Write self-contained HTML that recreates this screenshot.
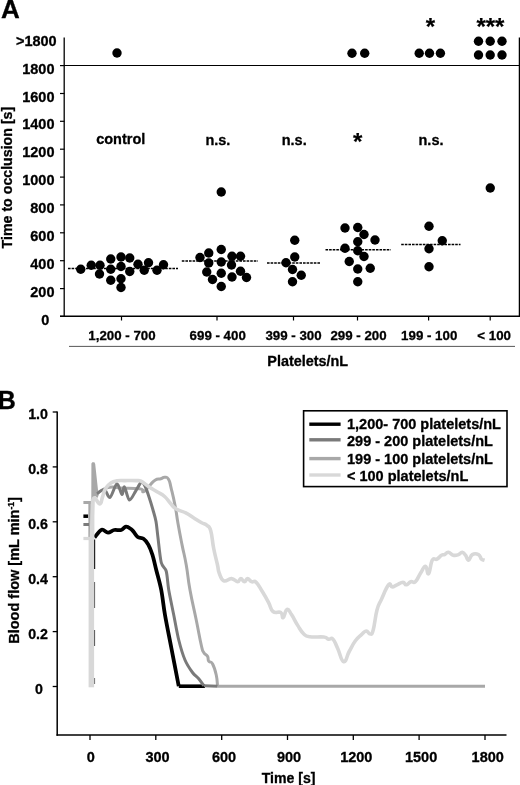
<!DOCTYPE html>
<html><head><meta charset="utf-8"><title>Figure</title>
<style>
html,body{margin:0;padding:0;background:#fff;}
body{width:520px;height:785px;overflow:hidden;}
svg{display:block;will-change:transform;}
text{font-family:"Liberation Sans",sans-serif;font-weight:bold;fill:#000;stroke:#000;stroke-width:0.3px;}
.t14{font-size:14.5px;}
.t13{font-size:13.3px;}
.big{font-size:26px;}
.ast{font-size:24px;stroke-width:0.2px;}
</style></head><body>
<svg width="520" height="785" viewBox="0 0 520 785">
<rect width="520" height="785" fill="#fff"/>

<text class="big" x="1.0" y="17.9">A</text>
<text class="big" style="font-size:25px" x="-2.3" y="409.2">B</text>
<line x1="64.2" y1="37.5" x2="64.2" y2="317" stroke="#000" stroke-width="1.3"/>
<line x1="60" y1="316.3" x2="520" y2="316.3" stroke="#000" stroke-width="1.5"/>
<line x1="519.4" y1="37.5" x2="519.4" y2="317" stroke="#000" stroke-width="1.3"/>
<line x1="60" y1="65.5" x2="519" y2="65.5" stroke="#000" stroke-width="1.2"/>
<line x1="60" y1="65.6" x2="64.5" y2="65.6" stroke="#000" stroke-width="1.2"/>
<text class="t14" x="54.5" y="73.6" text-anchor="end">1800</text>
<line x1="60" y1="93.5" x2="64.5" y2="93.5" stroke="#000" stroke-width="1.2"/>
<text class="t14" x="54.5" y="101.5" text-anchor="end">1600</text>
<line x1="60" y1="121.3" x2="64.5" y2="121.3" stroke="#000" stroke-width="1.2"/>
<text class="t14" x="54.5" y="129.3" text-anchor="end">1400</text>
<line x1="60" y1="149.2" x2="64.5" y2="149.2" stroke="#000" stroke-width="1.2"/>
<text class="t14" x="54.5" y="157.2" text-anchor="end">1200</text>
<line x1="60" y1="177.1" x2="64.5" y2="177.1" stroke="#000" stroke-width="1.2"/>
<text class="t14" x="54.5" y="185.1" text-anchor="end">1000</text>
<line x1="60" y1="204.9" x2="64.5" y2="204.9" stroke="#000" stroke-width="1.2"/>
<text class="t14" x="54.5" y="212.9" text-anchor="end">800</text>
<line x1="60" y1="232.8" x2="64.5" y2="232.8" stroke="#000" stroke-width="1.2"/>
<text class="t14" x="54.5" y="240.8" text-anchor="end">600</text>
<line x1="60" y1="260.7" x2="64.5" y2="260.7" stroke="#000" stroke-width="1.2"/>
<text class="t14" x="54.5" y="268.7" text-anchor="end">400</text>
<line x1="60" y1="288.6" x2="64.5" y2="288.6" stroke="#000" stroke-width="1.2"/>
<text class="t14" x="54.5" y="296.6" text-anchor="end">200</text>
<line x1="60" y1="316.4" x2="64.5" y2="316.4" stroke="#000" stroke-width="1.2"/>
<text class="t14" x="49.4" y="325.4" text-anchor="end">0</text>
<text class="t14" x="56.7" y="45.8" text-anchor="end">&gt;1800</text>
<text class="t14" style="font-size:14.2px" transform="translate(12.3,248.4) rotate(-90)">Time to occlusion [s]</text>
<line x1="121.5" y1="316" x2="121.5" y2="320.5" stroke="#000" stroke-width="1.2"/>
<text class="t13" x="122.0" y="340.4" text-anchor="middle">1,200 - 700</text>
<line x1="217.0" y1="316" x2="217.0" y2="320.5" stroke="#000" stroke-width="1.2"/>
<text class="t13" x="217.7" y="340.4" text-anchor="middle">699 - 400</text>
<line x1="293.5" y1="316" x2="293.5" y2="320.5" stroke="#000" stroke-width="1.2"/>
<text class="t13" x="293.5" y="340.4" text-anchor="middle">399 - 300</text>
<line x1="357.5" y1="316" x2="357.5" y2="320.5" stroke="#000" stroke-width="1.2"/>
<text class="t13" x="358.5" y="340.4" text-anchor="middle">299 - 200</text>
<line x1="428.6" y1="316" x2="428.6" y2="320.5" stroke="#000" stroke-width="1.2"/>
<text class="t13" x="429.2" y="340.4" text-anchor="middle">199 - 100</text>
<line x1="490.2" y1="316" x2="490.2" y2="320.5" stroke="#000" stroke-width="1.2"/>
<text class="t13" x="494.2" y="340.4" text-anchor="middle">&lt; 100</text>
<line x1="69" y1="346.4" x2="515" y2="346.4" stroke="#444" stroke-width="0.9"/>
<text x="267.3" y="366" style="font-size:14.4px">Platelets/nL</text>
<text class="t14" x="96.2" y="144.4">control</text>
<text class="t14" x="205.4" y="144.8">n.s.</text>
<text class="t14" x="281.7" y="144.8">n.s.</text>
<text class="t14" x="418.5" y="144.8">n.s.</text>
<text class="ast" x="357.6" y="149.9" text-anchor="middle">*</text>
<text class="ast" x="430.4" y="35.3" text-anchor="middle">*</text>
<text class="ast" x="490.4" y="35.3" text-anchor="middle">***</text>
<line x1="68.0" y1="268.5" x2="178.0" y2="268.5" stroke="#000" stroke-width="1.6" stroke-dasharray="2.6,1"/>
<line x1="181.8" y1="261.0" x2="258.0" y2="261.0" stroke="#000" stroke-width="1.6" stroke-dasharray="2.6,1"/>
<line x1="267.0" y1="263.0" x2="320.0" y2="263.0" stroke="#000" stroke-width="1.6" stroke-dasharray="2.6,1"/>
<line x1="325.5" y1="249.7" x2="390.8" y2="249.7" stroke="#000" stroke-width="1.6" stroke-dasharray="2.6,1"/>
<line x1="401.2" y1="244.5" x2="460.5" y2="244.5" stroke="#000" stroke-width="1.6" stroke-dasharray="2.6,1"/>
<circle cx="80.75" cy="269.25" r="4.7" fill="#000"/>
<circle cx="91.25" cy="265.25" r="4.7" fill="#000"/>
<circle cx="100.00" cy="265.25" r="4.7" fill="#000"/>
<circle cx="99.50" cy="274.00" r="4.7" fill="#000"/>
<circle cx="110.75" cy="259.00" r="4.7" fill="#000"/>
<circle cx="110.75" cy="269.25" r="4.7" fill="#000"/>
<circle cx="110.75" cy="280.25" r="4.7" fill="#000"/>
<circle cx="121.00" cy="257.00" r="4.7" fill="#000"/>
<circle cx="121.00" cy="266.50" r="4.7" fill="#000"/>
<circle cx="121.00" cy="278.75" r="4.7" fill="#000"/>
<circle cx="121.00" cy="287.50" r="4.7" fill="#000"/>
<circle cx="129.75" cy="258.00" r="4.7" fill="#000"/>
<circle cx="129.75" cy="271.50" r="4.7" fill="#000"/>
<circle cx="138.00" cy="264.25" r="4.7" fill="#000"/>
<circle cx="144.25" cy="270.25" r="4.7" fill="#000"/>
<circle cx="148.50" cy="262.75" r="4.7" fill="#000"/>
<circle cx="157.00" cy="270.25" r="4.7" fill="#000"/>
<circle cx="163.50" cy="264.75" r="4.7" fill="#000"/>
<circle cx="117.00" cy="53.00" r="4.7" fill="#000"/>
<circle cx="221.25" cy="192.00" r="4.7" fill="#000"/>
<circle cx="221.25" cy="249.50" r="4.7" fill="#000"/>
<circle cx="208.75" cy="253.00" r="4.7" fill="#000"/>
<circle cx="200.00" cy="257.50" r="4.7" fill="#000"/>
<circle cx="232.00" cy="256.25" r="4.7" fill="#000"/>
<circle cx="240.50" cy="256.25" r="4.7" fill="#000"/>
<circle cx="208.75" cy="263.00" r="4.7" fill="#000"/>
<circle cx="221.25" cy="262.00" r="4.7" fill="#000"/>
<circle cx="231.50" cy="265.00" r="4.7" fill="#000"/>
<circle cx="206.75" cy="272.00" r="4.7" fill="#000"/>
<circle cx="221.25" cy="273.25" r="4.7" fill="#000"/>
<circle cx="240.50" cy="271.25" r="4.7" fill="#000"/>
<circle cx="232.00" cy="277.00" r="4.7" fill="#000"/>
<circle cx="212.50" cy="279.50" r="4.7" fill="#000"/>
<circle cx="246.50" cy="277.50" r="4.7" fill="#000"/>
<circle cx="221.25" cy="286.50" r="4.7" fill="#000"/>
<circle cx="294.75" cy="240.25" r="4.7" fill="#000"/>
<circle cx="294.75" cy="257.00" r="4.7" fill="#000"/>
<circle cx="286.00" cy="262.75" r="4.7" fill="#000"/>
<circle cx="292.50" cy="269.50" r="4.7" fill="#000"/>
<circle cx="301.25" cy="275.25" r="4.7" fill="#000"/>
<circle cx="292.50" cy="281.75" r="4.7" fill="#000"/>
<circle cx="345.00" cy="228.00" r="4.7" fill="#000"/>
<circle cx="357.75" cy="227.50" r="4.7" fill="#000"/>
<circle cx="364.00" cy="234.50" r="4.7" fill="#000"/>
<circle cx="375.00" cy="240.00" r="4.7" fill="#000"/>
<circle cx="357.75" cy="241.75" r="4.7" fill="#000"/>
<circle cx="345.00" cy="248.25" r="4.7" fill="#000"/>
<circle cx="357.75" cy="250.75" r="4.7" fill="#000"/>
<circle cx="364.00" cy="256.50" r="4.7" fill="#000"/>
<circle cx="349.25" cy="261.50" r="4.7" fill="#000"/>
<circle cx="357.75" cy="269.00" r="4.7" fill="#000"/>
<circle cx="370.25" cy="268.25" r="4.7" fill="#000"/>
<circle cx="357.75" cy="281.75" r="4.7" fill="#000"/>
<circle cx="352.00" cy="53.30" r="4.7" fill="#000"/>
<circle cx="364.70" cy="53.30" r="4.7" fill="#000"/>
<circle cx="429.00" cy="226.25" r="4.7" fill="#000"/>
<circle cx="442.25" cy="240.75" r="4.7" fill="#000"/>
<circle cx="429.00" cy="248.75" r="4.7" fill="#000"/>
<circle cx="429.00" cy="266.75" r="4.7" fill="#000"/>
<circle cx="419.20" cy="53.30" r="4.7" fill="#000"/>
<circle cx="429.50" cy="53.30" r="4.7" fill="#000"/>
<circle cx="440.40" cy="53.30" r="4.7" fill="#000"/>
<circle cx="490.25" cy="188.00" r="4.7" fill="#000"/>
<circle cx="478.50" cy="41.30" r="4.7" fill="#000"/>
<circle cx="490.20" cy="41.30" r="4.7" fill="#000"/>
<circle cx="502.00" cy="41.30" r="4.7" fill="#000"/>
<circle cx="478.50" cy="55.00" r="4.7" fill="#000"/>
<circle cx="490.20" cy="55.00" r="4.7" fill="#000"/>
<circle cx="502.00" cy="55.00" r="4.7" fill="#000"/>
<line x1="57.2" y1="411.5" x2="57.2" y2="735.7" stroke="#000" stroke-width="1.5"/>
<line x1="56.5" y1="735" x2="506.5" y2="735" stroke="#000" stroke-width="1.5"/>
<line x1="52.7" y1="412.0" x2="57.2" y2="412.0" stroke="#000" stroke-width="1.3"/>
<text class="t14" style="font-size:14.2px" x="47.9" y="419.2" text-anchor="end">1.0</text>
<line x1="52.7" y1="466.9" x2="57.2" y2="466.9" stroke="#000" stroke-width="1.3"/>
<text class="t14" style="font-size:14.2px" x="47.9" y="474.1" text-anchor="end">0.8</text>
<line x1="52.7" y1="521.8" x2="57.2" y2="521.8" stroke="#000" stroke-width="1.3"/>
<text class="t14" style="font-size:14.2px" x="47.9" y="529.0" text-anchor="end">0.6</text>
<line x1="52.7" y1="576.7" x2="57.2" y2="576.7" stroke="#000" stroke-width="1.3"/>
<text class="t14" style="font-size:14.2px" x="47.9" y="583.9" text-anchor="end">0.4</text>
<line x1="52.7" y1="631.6" x2="57.2" y2="631.6" stroke="#000" stroke-width="1.3"/>
<text class="t14" style="font-size:14.2px" x="47.9" y="638.8" text-anchor="end">0.2</text>
<line x1="52.7" y1="686.5" x2="57.2" y2="686.5" stroke="#000" stroke-width="1.3"/>
<text class="t14" style="font-size:14.2px" x="42.8" y="693.7" text-anchor="end">0</text>
<line x1="90.0" y1="735" x2="90.0" y2="740" stroke="#000" stroke-width="1.3"/>
<text class="t14" x="90.7" y="761.7" text-anchor="middle">0</text>
<line x1="155.8" y1="735" x2="155.8" y2="740" stroke="#000" stroke-width="1.3"/>
<text class="t14" x="157.6" y="761.7" text-anchor="middle">300</text>
<line x1="221.7" y1="735" x2="221.7" y2="740" stroke="#000" stroke-width="1.3"/>
<text class="t14" x="224.1" y="761.7" text-anchor="middle">600</text>
<line x1="287.5" y1="735" x2="287.5" y2="740" stroke="#000" stroke-width="1.3"/>
<text class="t14" x="289.1" y="761.7" text-anchor="middle">900</text>
<line x1="353.3" y1="735" x2="353.3" y2="740" stroke="#000" stroke-width="1.3"/>
<text class="t14" x="356.3" y="761.7" text-anchor="middle">1200</text>
<line x1="419.1" y1="735" x2="419.1" y2="740" stroke="#000" stroke-width="1.3"/>
<text class="t14" x="421.1" y="761.7" text-anchor="middle">1500</text>
<line x1="485.0" y1="735" x2="485.0" y2="740" stroke="#000" stroke-width="1.3"/>
<text class="t14" x="487.7" y="761.7" text-anchor="middle">1800</text>
<text x="261.7" y="782.6" style="font-size:14.1px">Time [s]</text>
<text class="t14" transform="translate(18.6,643.8) rotate(-90)">Blood flow [mL min<tspan dy="-4.5" style="font-size:8.5px">-1</tspan><tspan dy="4.5">]</tspan></text>
<line x1="94.5" y1="539.5" x2="94.5" y2="569.0" stroke="#111" stroke-width="1.4"/>
<line x1="94.5" y1="582.0" x2="94.5" y2="608.0" stroke="#666" stroke-width="1.2"/>
<line x1="94.5" y1="630.0" x2="94.5" y2="646.0" stroke="#555" stroke-width="1.2"/>
<line x1="94.5" y1="678.0" x2="94.5" y2="684.0" stroke="#777" stroke-width="1.2"/>
<polyline points="83.4,516.2 88.2,516.2" fill="none" stroke="#000" stroke-width="3.5" stroke-linejoin="round" stroke-linecap="butt" />
<path d="M94.60,537.50 C95.77,536.22 99.37,530.62 101.60,529.80 C103.83,528.98 105.90,532.57 108.00,532.60 C110.10,532.63 112.00,530.43 114.20,530.00 C116.40,529.57 119.23,530.55 121.20,530.00 C123.17,529.45 124.37,526.87 126.00,526.70 C127.63,526.53 129.70,528.12 131.00,529.00 C132.30,529.88 132.68,530.67 133.80,532.00 C134.92,533.33 136.08,535.87 137.70,537.00 C139.32,538.13 141.73,537.53 143.50,538.80 C145.27,540.07 146.80,541.90 148.30,544.60 C149.80,547.30 151.18,550.77 152.50,555.00 C153.82,559.23 154.79,564.17 156.25,570.00 C157.71,575.83 159.79,582.50 161.25,590.00 C162.71,597.50 163.33,605.42 165.00,615.00 C166.67,624.58 168.96,635.62 171.25,647.50 C173.54,659.38 177.50,679.79 178.75,686.25" fill="none" stroke="#000" stroke-width="3.8" stroke-linejoin="round" stroke-linecap="butt"/>
<polyline points="178.8,686.2 205.0,686.2" fill="none" stroke="#000" stroke-width="3.6" stroke-linejoin="round" stroke-linecap="butt" stroke-linecap="round"/>
<polyline points="89.6,502.5 89.6,538.0" fill="none" stroke="#a8a8a8" stroke-width="2.5" stroke-linejoin="round" stroke-linecap="butt" />
<polyline points="83.4,502.5 91.0,502.5" fill="none" stroke="#a8a8a8" stroke-width="3" stroke-linejoin="round" stroke-linecap="butt" />
<polygon points="91.3,501 91.4,463.5 92.3,462.3 94.4,462.3 95.2,464 98.6,495.5 97.4,498 95,496 93,500" fill="#a8a8a8"/>
<path d="M97.40,493.40 C99.16,492.23 100.11,490.71 104.00,489.00 C107.89,487.29 107.73,487.27 112.00,487.00 C116.27,486.73 112.64,487.52 120.00,488.00 C127.36,488.48 133.33,487.81 139.60,488.80 C145.87,489.79 140.94,492.45 143.50,491.70 C146.06,490.95 146.13,489.07 149.20,486.00 C152.27,482.93 151.91,482.12 155.00,480.20 C158.09,478.28 158.24,479.57 160.80,478.80 C163.36,478.03 162.55,477.19 164.60,477.30 C166.65,477.41 166.71,476.13 168.50,479.20 C170.29,482.27 169.51,481.60 171.30,488.80 C173.09,496.00 173.41,496.95 175.20,506.20 C176.99,515.45 176.19,513.26 178.00,523.50 C179.81,533.74 179.80,533.53 182.00,544.60 C184.20,555.67 184.12,552.89 186.25,565.00 C188.38,577.11 187.33,575.33 190.00,590.00 C192.67,604.67 193.25,605.33 196.25,620.00 C199.25,634.67 199.25,636.33 201.25,645.00 C203.25,653.67 202.08,649.50 203.75,652.50 C205.42,655.50 206.17,653.92 207.50,656.25 C208.83,658.58 207.42,659.25 208.75,661.25 C210.08,663.25 210.50,660.08 212.50,663.75 C214.50,667.42 214.92,669.00 216.25,675.00 C217.58,681.00 217.17,683.25 217.50,686.25" fill="none" stroke="#a8a8a8" stroke-width="3" stroke-linejoin="round" stroke-linecap="butt"/>
<polyline points="217.5,686.2 485.0,686.2" fill="none" stroke="#a8a8a8" stroke-width="3" stroke-linejoin="round" stroke-linecap="butt" />
<polyline points="83.4,524.5 89.0,524.5" fill="none" stroke="#7a7a7a" stroke-width="3" stroke-linejoin="round" stroke-linecap="butt" />
<path d="M97.00,493.75 C98.11,493.10 102.45,488.84 104.40,489.40 C106.35,489.96 108.12,498.35 110.00,497.50 C111.88,496.65 115.12,484.22 116.90,483.75 C118.69,483.28 120.78,493.93 121.90,494.40 C123.03,494.87 123.28,486.06 124.40,486.90 C125.53,487.74 127.69,499.42 129.40,500.00 C131.11,500.58 133.99,493.50 135.80,490.80 C137.62,488.10 140.06,482.57 141.50,482.00 C142.94,481.43 144.25,484.68 145.40,487.00 C146.56,489.32 148.06,494.05 149.20,497.50 C150.34,500.95 151.98,506.40 153.00,510.00 C154.02,513.60 155.26,517.45 156.00,521.50 C156.74,525.55 157.11,530.85 157.90,537.00 C158.69,543.15 160.00,557.36 161.25,562.50 C162.50,567.64 165.12,567.12 166.25,571.25 C167.38,575.38 167.62,583.44 168.75,590.00 C169.88,596.56 172.25,607.50 173.75,615.00 C175.25,622.50 177.06,633.25 178.75,640.00 C180.44,646.75 182.94,655.12 185.00,660.00 C187.06,664.88 190.44,669.69 192.50,672.50 C194.56,675.31 197.06,676.76 198.75,678.75 C200.44,680.74 203.00,684.70 203.75,685.75" fill="none" stroke="#7a7a7a" stroke-width="3" stroke-linejoin="round" stroke-linecap="butt"/>
<polyline points="203.8,685.8 217.5,686.2" fill="none" stroke="#7a7a7a" stroke-width="3" stroke-linejoin="round" stroke-linecap="butt" />
<rect x="88.6" y="538" width="5.5" height="149.3" fill="#d8d8d8"/>
<rect x="90.8" y="499" width="3.6" height="40" fill="#d8d8d8"/>
<polyline points="83.4,538.5 91.0,538.5" fill="none" stroke="#d8d8d8" stroke-width="3.2" stroke-linejoin="round" stroke-linecap="butt" />
<path d="M91.50,538.00 C91.73,531.47 91.92,519.33 92.50,510.00 C93.08,500.67 92.30,499.42 94.00,498.00 C95.70,496.58 97.82,504.13 99.80,503.90 C101.78,503.67 101.15,500.59 102.50,497.00 C103.85,493.41 103.64,491.77 105.60,488.50 C107.56,485.23 108.19,484.80 110.90,483.00 C113.61,481.20 113.91,481.36 117.20,480.80 C120.49,480.24 120.54,480.65 125.00,480.60 C129.46,480.55 132.57,480.46 136.30,480.60 C140.03,480.74 137.99,479.71 141.00,481.20 C144.01,482.69 145.47,484.55 149.20,487.00 C152.93,489.45 153.41,489.48 157.00,491.70 C160.59,493.92 161.47,493.79 164.60,496.50 C167.73,499.21 167.69,500.38 170.40,503.30 C173.11,506.22 172.61,506.76 176.20,509.00 C179.79,511.24 181.76,510.87 185.80,512.90 C189.84,514.93 189.91,515.46 193.50,517.70 C197.09,519.94 198.05,520.70 201.20,522.50 C204.35,524.30 204.76,523.42 207.00,525.40 C209.24,527.38 209.24,525.61 210.80,531.00 C212.36,536.39 212.14,540.57 213.70,548.50 C215.26,556.43 216.22,559.28 217.50,565.00 C218.78,570.72 217.73,569.31 219.20,573.00 C220.67,576.69 220.93,579.49 223.80,580.80 C226.67,582.11 228.26,578.39 231.50,578.60 C234.74,578.81 235.53,581.70 237.70,581.70 C239.87,581.70 239.21,578.60 240.80,578.60 C242.39,578.60 242.94,581.70 244.50,581.70 C246.06,581.70 245.87,578.60 247.50,578.60 C249.13,578.60 249.47,580.84 251.50,581.70 C253.53,582.56 253.68,580.01 256.20,582.30 C258.72,584.59 259.43,586.83 262.30,591.50 C265.17,596.17 266.00,597.63 268.50,602.30 C271.00,606.97 270.13,609.12 273.00,611.50 C275.87,613.88 278.42,611.05 280.80,612.50 C283.18,613.95 281.75,618.42 283.20,617.70 C284.65,616.98 285.06,610.12 287.00,609.40 C288.94,608.68 289.00,610.87 291.50,614.60 C294.00,618.33 294.83,620.87 297.70,625.40 C300.57,629.93 300.93,631.34 303.80,634.00 C306.67,636.66 305.33,636.10 310.00,636.80 C314.67,637.50 319.48,636.44 323.80,637.00 C328.12,637.56 326.35,638.69 328.50,639.20 C330.65,639.71 330.85,637.03 333.00,639.20 C335.15,641.37 335.20,643.25 337.70,648.50 C340.20,653.75 341.02,661.00 343.70,661.70 C346.38,662.40 346.47,656.38 349.20,651.50 C351.93,646.62 352.53,644.74 355.40,640.80 C358.27,636.86 358.98,636.89 361.50,634.60 C364.02,632.31 364.17,631.14 366.20,631.00 C368.23,630.86 368.57,634.23 370.20,634.00 C371.83,633.77 371.61,635.60 373.20,630.00 C374.79,624.40 375.06,617.19 377.00,610.00 C378.94,602.81 378.79,605.08 381.50,599.20 C384.21,593.32 386.08,587.65 388.60,584.80 C391.12,581.95 390.34,587.00 392.30,587.00 C394.26,587.00 394.50,585.90 397.00,584.80 C399.50,583.70 400.85,582.30 403.00,582.30 C405.15,582.30 404.38,584.94 406.20,584.80 C408.02,584.66 408.65,582.42 410.80,581.70 C412.95,580.98 413.11,583.73 415.40,581.70 C417.69,579.67 418.24,576.59 420.60,573.00 C422.96,569.41 423.63,566.14 425.50,566.30 C427.37,566.46 427.01,575.12 428.60,573.70 C430.19,572.28 430.34,563.58 432.30,560.20 C434.26,556.82 434.85,560.37 437.00,559.20 C439.15,558.03 439.73,556.27 441.50,555.20 C443.27,554.13 443.01,555.30 444.60,554.60 C446.19,553.90 446.29,552.06 448.30,552.20 C450.31,552.34 450.82,554.64 453.20,555.20 C455.58,555.76 456.40,555.30 458.50,554.60 C460.60,553.90 460.57,552.06 462.20,552.20 C463.83,552.34 464.01,553.33 465.50,555.20 C466.99,557.07 467.01,560.34 468.60,560.20 C470.19,560.06 469.99,555.91 472.30,554.60 C474.61,553.29 476.35,553.53 478.50,554.60 C480.65,555.67 480.08,557.89 481.50,559.20 C482.92,560.51 483.88,559.97 484.60,560.20" fill="none" stroke="#d8d8d8" stroke-width="3.6" stroke-linejoin="round" stroke-linecap="butt"/>
<rect x="303.6" y="410.8" width="203.4" height="75.8" fill="#fff" stroke="#000" stroke-width="1.6"/>
<line x1="309.3" y1="424.2" x2="340.6" y2="424.2" stroke="#000" stroke-width="3.4"/>
<text x="347" y="429.2" style="font-size:14.5px">1,200- 700 platelets/nL</text>
<line x1="309.3" y1="439.8" x2="340.6" y2="439.8" stroke="#7a7a7a" stroke-width="3.4"/>
<text x="347" y="445.7" style="font-size:14.5px">299 - 200 platelets/nL</text>
<line x1="309.3" y1="458.6" x2="340.6" y2="458.6" stroke="#a8a8a8" stroke-width="3.4"/>
<text x="347" y="463.9" style="font-size:14.5px">199 - 100 platelets/nL</text>
<line x1="309.3" y1="475.0" x2="340.6" y2="475.0" stroke="#d8d8d8" stroke-width="3.4"/>
<text x="347" y="480.5" style="font-size:14.5px">&lt; 100 platelets/nL</text>
</svg></body></html>
